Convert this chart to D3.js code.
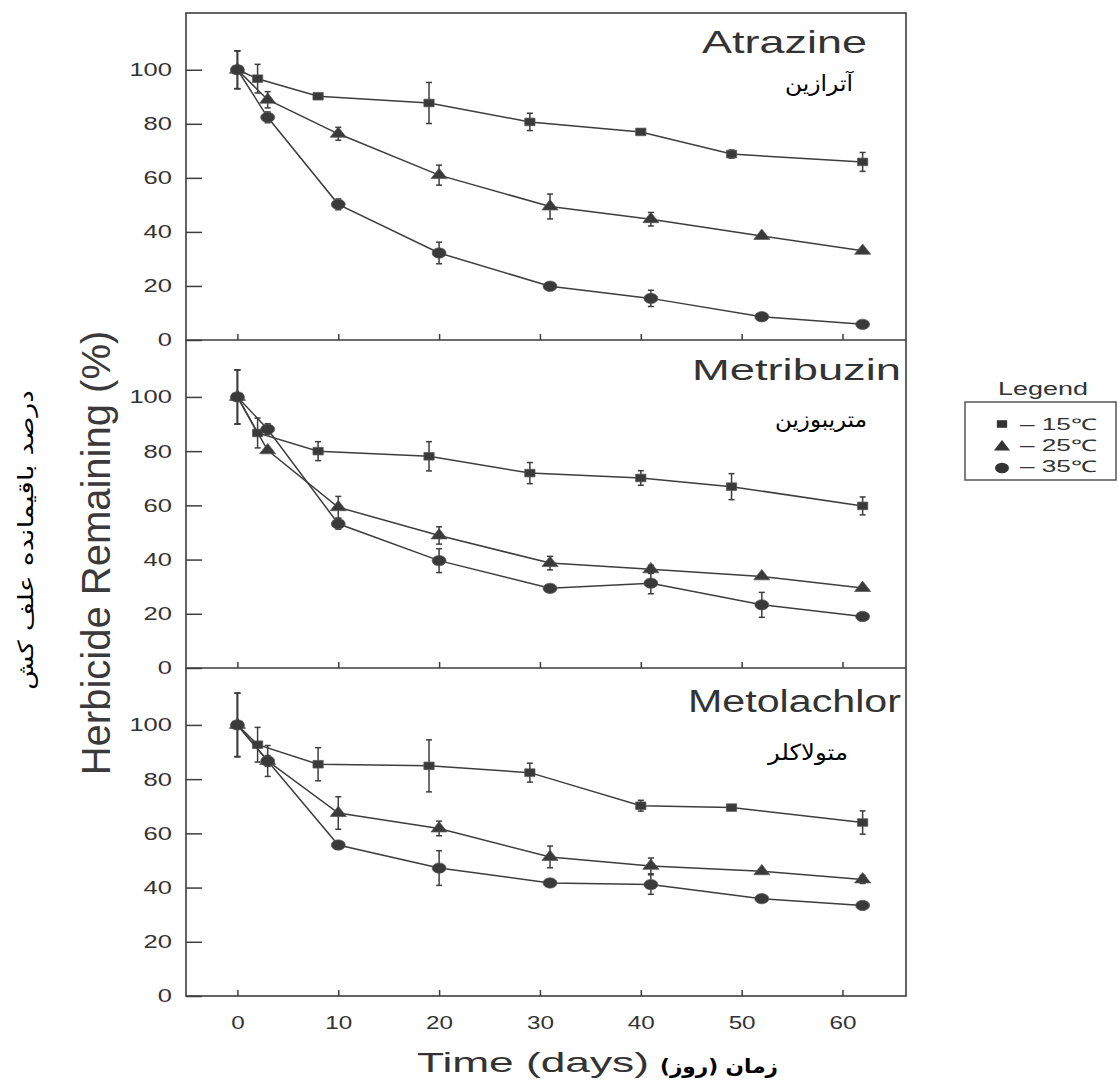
<!DOCTYPE html>
<html>
<head>
<meta charset="utf-8">
<script src="https://cdn.jsdelivr.net/npm/d3@7"></script>
<style>
  html, body { margin: 0; padding: 0; background: #fff; }
  svg { display: block; }
</style>
</head>
<body>
<script>
// ---------------- DATA ----------------
const panelNames = ["Atrazine", "Metribuzin", "Metolachlor"];
const panelNamesFa = ["آترازین", "متریبوزین", "متولاکلر"];
const temperatures = ["15", "25", "35"];
const legendLabels = ["–  15℃", "–  25℃", "–  35℃"];
const xTicks = [0, 10, 20, 30, 40, 50, 60];
const yTicks = [0, 20, 40, 60, 80, 100];

const days15 = [0, 2, 8, 19, 29, 40, 49, 62];
const days25 = [0, 3, 10, 20, 31, 41, 52, 62];
const days35 = [0, 3, 10, 20, 31, 41, 52, 62];

const atrazine15 = [100, 96.7, 90.2, 87.7, 80.7, 77.0, 68.8, 65.9];
const atrazine15Err = [7, 5.3, 0, 7.6, 3.2, 0.8, 1.5, 3.5];
const atrazine25 = [100, 88.9, 76.3, 61.0, 49.4, 44.7, 38.5, 33.0];
const atrazine25Err = [7, 3, 2.4, 3.7, 4.6, 2.5, 0, 0];
const atrazine35 = [100, 82.4, 50.2, 32.2, 19.9, 15.4, 8.6, 5.8];
const atrazine35Err = [7, 2, 2, 4, 0, 3, 0, 0];

const metribuzin15 = [100, 86.7, 80.0, 78.1, 71.9, 70.1, 66.9, 59.8];
const metribuzin15Err = [10, 5.5, 3.5, 5.4, 3.9, 2.7, 4.8, 3.3];
const metribuzin25 = [100, 80.3, 59.3, 48.9, 38.7, 36.4, 33.8, 29.5];
const metribuzin25Err = [10, 0, 4, 3.2, 2.5, 1.5, 0, 0];
const metribuzin35 = [100, 88.1, 53.2, 39.6, 29.4, 31.3, 23.3, 19.0];
const metribuzin35Err = [10, 2, 2, 4.4, 0, 3.9, 4.6, 0];

const metolachlor15 = [100, 92.7, 85.5, 84.9, 82.4, 70.2, 69.5, 64.0];
const metolachlor15Err = [11.7, 6.4, 6.1, 9.6, 3.5, 2, 0, 4.3];
const metolachlor25 = [100, 86.7, 67.5, 61.8, 51.3, 48.0, 46.0, 43.0];
const metolachlor25Err = [11.7, 5.7, 6, 2.7, 4, 2.9, 0, 1.5];
const metolachlor35 = [100, 86.7, 55.7, 47.2, 41.7, 41.1, 35.9, 33.4];
const metolachlor35Err = [11.7, 2, 0, 6.4, 0, 3.6, 0, 0];

// tables built from the arrays above
const seriesDays = [days15, days25, days35];
const panelValues = [
  [atrazine15, atrazine25, atrazine35],
  [metribuzin15, metribuzin25, metribuzin35],
  [metolachlor15, metolachlor25, metolachlor35]
];
const panelErrors = [
  [atrazine15Err, atrazine25Err, atrazine35Err],
  [metribuzin15Err, metribuzin25Err, metribuzin35Err],
  [metolachlor15Err, metolachlor25Err, metolachlor35Err]
];

// ---------------- LAYOUT ----------------
const W = 1118, H = 1083;
const frameL = 186, frameR = 906;
const panelTop = [13, 340, 668];
const panelBot = [340, 668, 996];
const ink = "#3d3d3d";
const font = "'Liberation Sans', Arial, Helvetica, sans-serif";
const faFont = "'DejaVu Sans', sans-serif";

const svg = d3.select("body").append("svg")
  .attr("width", W).attr("height", H)
  .attr("viewBox", `0 0 ${W} ${H}`);
svg.append("rect").attr("width", W).attr("height", H).attr("fill", "#fff");

function stretch(sel, k) {
  sel.each(function () {
    const l = this.getComputedTextLength();
    if (l > 0) {
      this.setAttribute("textLength", (l * k).toFixed(1));
      this.setAttribute("lengthAdjust", "spacingAndGlyphs");
    }
  });
}

const x = d3.scaleLinear().domain([-5.1, 66.3]).range([frameL, frameR]);

const symbolTypes = [d3.symbolSquare, d3.symbolTriangle, d3.symbolCircle];
const symbolSizes = [58, 62, 84];
const symbolPaths = symbolTypes.map((t, i) => d3.symbol().type(t).size(symbolSizes[i])());

panelNames.forEach((name, p) => {
  const y = d3.scaleLinear().domain([0, 121]).range([panelBot[p], panelTop[p]]);
  const g = svg.append("g");

  // y axis
  const ya = g.append("g").attr("transform", `translate(${frameL},0)`)
    .call(d3.axisLeft(y).tickValues(yTicks).tickSizeInner(-16).tickSizeOuter(0).tickPadding(14));
  ya.select(".domain").remove();
  ya.selectAll("line").attr("stroke", ink).attr("stroke-width", 1.5);
  ya.selectAll("text").attr("font-family", font).attr("font-size", 18.5).attr("fill", "#333");
  stretch(ya.selectAll("text"), 1.38);

  // x axis
  const xa = g.append("g").attr("transform", `translate(0,${panelBot[p]})`)
    .call(d3.axisBottom(x).tickValues(xTicks).tickSizeInner(-6).tickSizeOuter(0).tickPadding(20)
      .tickFormat(p === 2 ? d3.format("d") : () => ""));
  xa.select(".domain").remove();
  xa.selectAll("line").attr("stroke", ink).attr("stroke-width", 1.5);
  xa.selectAll("text").attr("font-family", font).attr("font-size", 18).attr("fill", "#333");
  stretch(xa.selectAll("text"), 1.35);

  // series
  temperatures.forEach((t, s) => {
    const pts = seriesDays[s].map((d, i) => ({ day: d, v: panelValues[p][s][i], e: panelErrors[p][s][i] }));
    g.append("path").datum(pts)
      .attr("d", d3.line().x(d => x(d.day)).y(d => y(d.v)))
      .attr("fill", "none").attr("stroke", ink).attr("stroke-width", 1.5);

    const eb = g.append("g").selectAll("g").data(pts.filter(d => d.e > 0)).join("g")
      .attr("stroke", ink).attr("stroke-width", 1.5);
    eb.append("line")
      .attr("x1", d => x(d.day)).attr("x2", d => x(d.day))
      .attr("y1", d => y(d.v + d.e)).attr("y2", d => y(d.v - d.e));
    eb.append("line")
      .attr("x1", d => x(d.day) - 3).attr("x2", d => x(d.day) + 3)
      .attr("y1", d => y(d.v + d.e)).attr("y2", d => y(d.v + d.e));
    eb.append("line")
      .attr("x1", d => x(d.day) - 3).attr("x2", d => x(d.day) + 3)
      .attr("y1", d => y(d.v - d.e)).attr("y2", d => y(d.v - d.e));

    g.append("g").selectAll("path").data(pts).join("path")
      .attr("d", symbolPaths[s])
      .attr("transform", d => `translate(${x(d.day)},${y(d.v)}) scale(1.35,1)`)
      .attr("fill", "#3a3a3a").attr("stroke", "#555").attr("stroke-width", 0.6);
  });
});

// frame
svg.append("rect").attr("x", frameL).attr("y", panelTop[0])
  .attr("width", frameR - frameL).attr("height", panelBot[2] - panelTop[0])
  .attr("fill", "none").attr("stroke", ink).attr("stroke-width", 1.6);
[panelBot[0], panelBot[1]].forEach(yy => {
  svg.append("line").attr("x1", frameL).attr("x2", frameR).attr("y1", yy).attr("y2", yy)
    .attr("stroke", ink).attr("stroke-width", 1.6);
});

// panel titles
const titleX = [702, 692, 688], titleY = [53, 380, 712], titleSize = [32, 30, 31], titleLen = [165, 209, 213];
panelNames.forEach((n, p) => {
  svg.append("text").attr("x", titleX[p]).attr("y", titleY[p])
    .attr("font-family", font).attr("font-size", titleSize[p]).attr("fill", "#333")
    .attr("textLength", titleLen[p]).attr("lengthAdjust", "spacingAndGlyphs").text(n);
});
const faX = [819, 821, 808], faY = [91, 427, 760], faLen = [68, 92, 80];
panelNamesFa.forEach((n, p) => {
  svg.append("text").attr("x", faX[p]).attr("y", faY[p])
    .attr("text-anchor", "middle").attr("direction", "rtl")
    .attr("font-family", faFont).attr("font-size", 22).attr("fill", "#000")
    .attr("textLength", faLen[p]).attr("lengthAdjust", "spacingAndGlyphs").text(n);
});

// axis titles
svg.append("text").attr("x", 417).attr("y", 1072)
  .attr("font-family", font).attr("font-size", 28).attr("fill", "#333")
  .attr("textLength", 232).attr("lengthAdjust", "spacingAndGlyphs").text("Time (days)");
svg.append("text").attr("x", 719).attr("y", 1073)
  .attr("text-anchor", "middle").attr("direction", "rtl").attr("unicode-bidi", "embed")
  .attr("font-family", faFont).attr("font-weight", "bold").attr("font-size", 20).attr("fill", "#000")
  .attr("textLength", 118).attr("lengthAdjust", "spacingAndGlyphs").text("زمان (روز)");

svg.append("text").attr("transform", "translate(110,553) rotate(-90)")
  .attr("text-anchor", "middle")
  .attr("font-family", font).attr("font-size", 40).attr("fill", "#3a3a3a")
  .text("Herbicide Remaining (%)");
svg.append("text").attr("transform", "translate(33,540) rotate(-90)")
  .attr("text-anchor", "middle").attr("direction", "rtl")
  .attr("font-family", faFont).attr("font-size", 21).attr("fill", "#000")
  .attr("textLength", 300).attr("lengthAdjust", "spacingAndGlyphs")
  .text("درصد باقیمانده علف کش");

// legend
svg.append("text").attr("x", 998).attr("y", 395)
  .attr("font-family", font).attr("font-size", 18).attr("fill", "#333")
  .attr("textLength", 90).attr("lengthAdjust", "spacingAndGlyphs").text("Legend");
svg.append("rect").attr("x", 965).attr("y", 402).attr("width", 151).attr("height", 78)
  .attr("fill", "none").attr("stroke", "#555").attr("stroke-width", 1.5);
const legY = [424, 447, 468], legBase = [430, 451, 472];
legendLabels.forEach((lab, i) => {
  svg.append("path").attr("d", symbolPaths[i])
    .attr("transform", `translate(1002,${legY[i]}) scale(1.35,1)`)
    .attr("fill", "#333");
  svg.append("text").attr("x", 1020).attr("y", legBase[i])
    .attr("font-family", font).attr("font-size", 16).attr("fill", "#333")
    .attr("textLength", 77).attr("lengthAdjust", "spacingAndGlyphs").text(lab);
});
</script>
</body>
</html>
